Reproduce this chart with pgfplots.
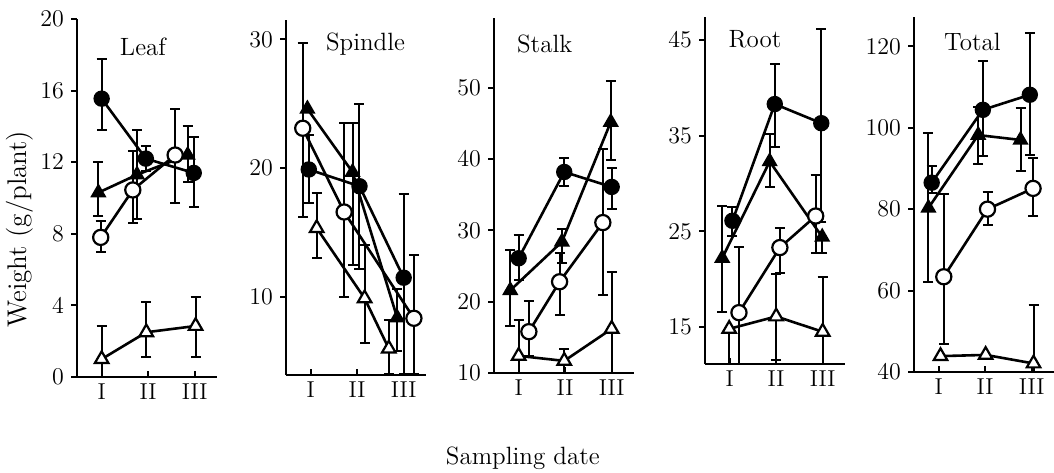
\documentclass[border=0pt]{standalone}
\usepackage{pgfplots}
\pgfplotsset{compat=1.18}

% 1 px of the reference = 0.5pt
\pgfplotsset{
  panel/.style={
    scale only axis, width=70pt, anchor=south west,
    axis lines=left, axis line style={-, line width=1.2pt},
    xmin=0.47, xmax=3.48,
    xtick={1,2,3}, xticklabels={I,II,III},
    tick style={black, line width=1pt}, major tick length=3pt,
    xtick align=inside, ytick align=outside,
    tick label style={font=\fontsize{11.5}{12}\selectfont},
    clip=false,
  },
  ebar/.style={
    error bars/.cd, y dir=both, y explicit,
    error bar style={line width=1pt},
    error mark options={rotate=90, mark size=2.5pt, line width=1pt},
  },
  fc/.style={black, line width=1.3pt, mark=*, mark size=3.7pt,
    mark options={solid, fill=black, line width=0.8pt}, ebar},
  oc/.style={black, line width=1.3pt, mark=*, mark size=3.8pt,
    mark options={solid, fill=white, draw=black, line width=1.1pt}, ebar},
  ft/.style={black, line width=1.3pt, mark=triangle*, mark size=3.9pt,
    mark options={solid, fill=black, line width=0.8pt}, ebar},
  ot/.style={black, line width=1.3pt, mark=triangle*, mark size=3.9pt,
    mark options={solid, fill=white, draw=black, line width=1.1pt}, ebar},
  table/eb/.style={x=x, y=y,
    y error plus expr=\thisrow{hi}-\thisrow{y},
    y error minus expr=\thisrow{y}-\thisrow{lo}},
}
\tikzset{ptitle/.style={font=\fontsize{12.5}{14}\selectfont, anchor=base}}

\begin{document}
\begin{tikzpicture}
\useasboundingbox (0,0) rectangle (527pt,236pt);

% ---- Leaf
\begin{axis}[panel, at={(38.5pt,47.5pt)}, height=179pt,
  ymin=0, ymax=20, ytick={0,4,8,12,16,20},
  ylabel={Weight (g/plant)},
  ylabel style={at={(axis description cs:-0.407,0.413)}, anchor=center,
    font=\fontsize{13.5}{15}\selectfont}]
\addplot[fc] table[eb] {
x y lo hi
1.00 15.55 13.8 17.75
1.95 12.2 11.5 12.9
2.98 11.4 9.5 13.4
};
\addplot[ft] table[eb] {
x y lo hi
0.93 10.3 9.0 12.0
1.76 11.3 8.8 13.8
2.85 12.4 10.9 14.0
};
\addplot[oc] table[eb] {
x y lo hi
0.98 7.8 7.0 8.7
1.67 10.45 8.6 12.6
2.58 12.4 9.7 15.0
};
\addplot[ot] table[eb] {
x y lo hi
1.00 1.0 0.0 2.85
1.96 2.5 1.1 4.2
3.02 2.85 1.1 4.45
};
\node[ptitle] at (axis description cs:0.471,0.899) {Leaf};
\end{axis}

% ---- Spindle
\begin{axis}[panel, at={(143pt,48.5pt)}, height=177.5pt,
  ymin=3.95, ymax=31.5, ytick={10,20,30}]
\addplot[fc] table[eb] {
x y lo hi
0.96 19.9 17.3 22.6
2.05 18.6 12.2 25.0
3.00 11.5 4.0 18.0
};
\addplot[ft] table[eb] {
x y lo hi
0.93 24.6 24.6 24.6
1.90 19.7 12.5 23.5
2.86 8.4 5.8 10.6
};
\addplot[oc] table[eb] {
x y lo hi
0.83 23.1 16.2 29.7
1.72 16.6 10.0 23.5
3.22 8.35 4.0 13.3
};
\addplot[ot] table[eb] {
x y lo hi
1.13 15.35 13.0 18.1
2.16 9.9 6.4 14.0
2.68 6.0 4.0 8.2
};
\node[ptitle] at (axis description cs:0.568,0.915) {Spindle};
\end{axis}

% ---- Stalk
\begin{axis}[panel, at={(247pt,49.5pt)}, height=177.5pt,
  ymin=10, ymax=59.8, ytick={10,20,30,40,50},
  xlabel={Sampling date},
  xlabel style={at={(axis description cs:0.206,-0.259)}, anchor=base,
    font=\fontsize{12.5}{14}\selectfont}]
\addplot[fc] table[eb] {
x y lo hi
1.00 26.1 23.0 29.3
1.98 38.2 36.3 40.1
3.00 36.1 33.0 38.7
};
\addplot[ft] table[eb] {
x y lo hi
0.82 21.6 16.6 27.3
1.93 28.4 25.5 30.2
2.98 45.2 39.9 50.9
};
\addplot[oc] table[eb] {
x y lo hi
1.22 15.8 12.4 20.1
1.88 22.8 18.2 26.9
2.81 31.1 21.0 41.4
};
\addplot[ot] table[eb] {
x y lo hi
1.00 12.4 10.0 17.5
1.98 11.7 10.0 13.3
3.00 16.2 10.0 24.2
};
\node[ptitle] at (axis description cs:0.362,0.904) {Stalk};
\end{axis}

% ---- Root
\begin{axis}[panel, at={(352.5pt,54pt)}, height=173.5pt,
  ymin=11.13, ymax=47.4, ytick={15,25,35,45}]
\addplot[fc] table[eb] {
x y lo hi
1.06 26.1 24.5 27.5
1.97 38.3 33.8 42.5
2.97 36.3 26.0 46.1
};
\addplot[ft] table[eb] {
x y lo hi
0.84 22.2 16.6 27.6
1.86 32.3 29.6 35.2
2.99 24.4 22.7 24.4
};
\addplot[oc] table[eb] {
x y lo hi
1.20 16.5 11.1 23.4
2.08 23.3 20.6 25.3
2.85 26.6 22.7 30.9
};
\addplot[ot] table[eb] {
x y lo hi
0.99 14.8 11.1 14.8
2.00 16.1 11.6 20.5
3.00 14.5 11.1 20.2
};
\node[ptitle] at (axis description cs:0.357,0.911) {Root};
\end{axis}

% ---- Total
\begin{axis}[panel, at={(457pt,50pt)}, height=177.5pt,
  ymin=40, ymax=127.2, ytick={40,60,80,100,120}]
\addplot[fc] table[eb] {
x y lo hi
0.85 86.5 84.0 90.7
1.95 104.4 93.0 116.5
2.96 108.1 93.3 123.3
};
\addplot[ft] table[eb] {
x y lo hi
0.78 80.3 62.0 98.7
1.85 98.2 91.0 105.0
2.76 97.0 89.3 104.8
};
\addplot[oc] table[eb] {
x y lo hi
1.11 63.4 46.8 83.7
2.05 80.0 76.0 84.3
3.03 85.1 78.3 92.5
};
\addplot[ot] table[eb] {
x y lo hi
1.04 43.9 43.9 43.9
2.01 44.2 44.2 44.2
3.04 42.1 40.0 56.5
};
\node[ptitle] at (axis description cs:0.417,0.907) {Total};
\end{axis}
\end{tikzpicture}
\end{document}
